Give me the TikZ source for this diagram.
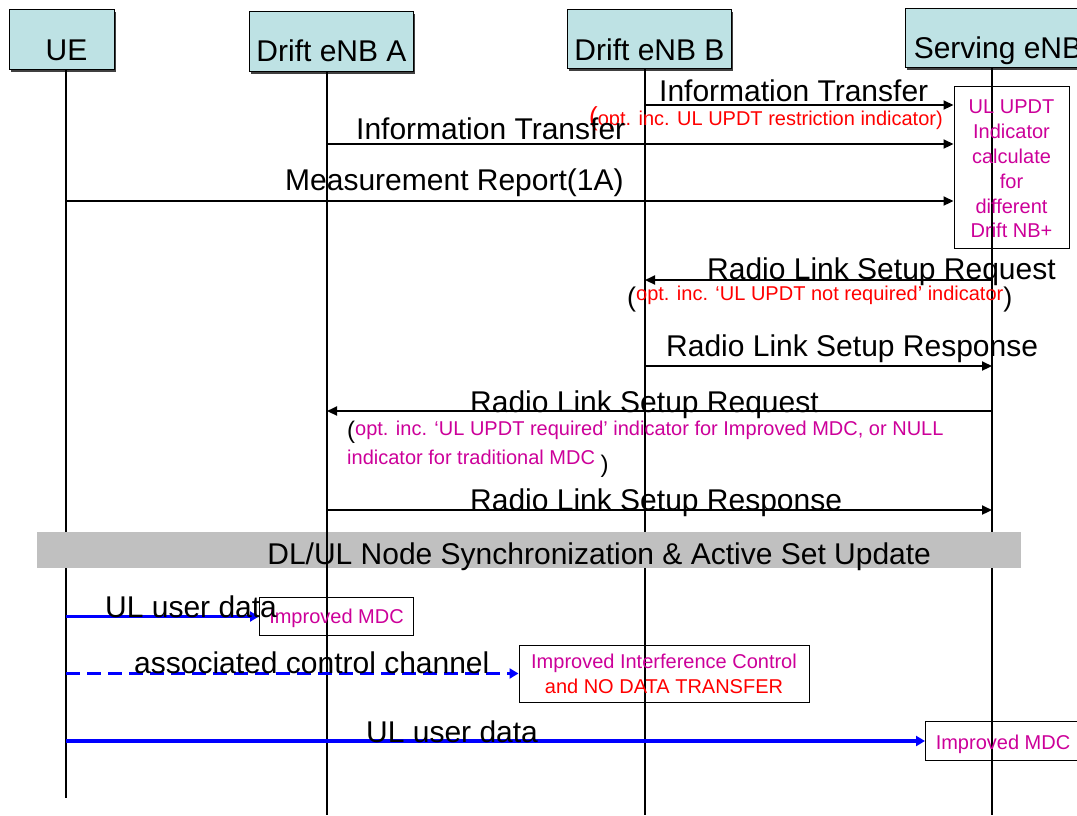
\documentclass[tikz,border=0pt]{standalone}
\usepackage{fontspec}
\setmainfont{Liberation Sans}
\usetikzlibrary{arrows.meta,shadows}
\definecolor{hdr}{RGB}{190,226,228}
\definecolor{mag}{RGB}{204,0,153}
\definecolor{bandgray}{RGB}{192,192,192}
\newcommand{\bigtxt}{\fontsize{30}{36}\selectfont}
\newcommand{\smtxt}{\fontsize{20}{24.8}\selectfont}
\newcommand{\parfont}{\fontsize{26}{30}\selectfont}
\begin{document}
\begin{tikzpicture}[x=1pt,y=-1pt,
  hdrbox/.style={draw=black, line width=1pt, fill=hdr, inner sep=0pt, anchor=north west, font=\bigtxt,
    general shadow={fill=black!75, shadow xshift=1.5pt, shadow yshift=-2pt}},
  life/.style={line width=1.3pt, draw=black},
  msg/.style={line width=2.2pt, -{Triangle[length=10pt,width=9pt]}},
  blu/.style={draw=blue, line width=3.2pt, -{Triangle[length=9pt,width=10pt]}},
  lbl/.style={font=\bigtxt, inner sep=0pt, anchor=base west},
  note/.style={draw=black, line width=1pt, inner sep=0pt}]
\useasboundingbox (0,0) rectangle (1077,815);

% header boxes
\node[hdrbox, minimum width=105pt, text height=51pt, text depth=9pt] (ue) at (9,9) {\hspace*{9pt}UE};
\node[hdrbox, minimum width=164pt, text height=50pt, text depth=10pt] (da) at (249,11) {Drift eNB A};
\node[hdrbox, minimum width=164pt, text height=51pt, text depth=8pt] (db) at (567,9) {Drift eNB B};
\node[hdrbox, minimum width=185pt, text height=50pt, text depth=9pt] (se) at (905,8) {Serving eNB};

% lifelines
\coordinate (ueB) at (66,798);
\coordinate (daB) at (327,815);
\coordinate (dbB) at (645,815);
\coordinate (seB) at (992,815);
\draw[life] (ue.south -| ueB) -- (ueB);
\draw[life] (db.south -| dbB) -- (dbB);
\draw[life] (se.south -| seB) -- (seB);

% sync band
\node[fill=bandgray, anchor=north west, inner sep=0pt, minimum width=984pt, text height=32pt, text depth=4pt, font=\bigtxt] (band) at (37,532) {\hspace*{140pt}DL/UL Node Synchronization \& Active Set Update};
\draw[life] (da.south -| daB) -- (daB);

% UL UPDT box
\node[note, minimum width=115pt, minimum height=162pt] (updt) at (1011.5,167) {};
\node[inner sep=0pt, font=\smtxt, text=mag, align=center] (updtxt) at (updt.center) [yshift=-2pt] {UL UPDT\\Indicator\\calculate\\for\\different\\Drift NB+};

% messages
\draw[msg] (dbB |- 0,105) -- (updt.west |- 0,105);
\node[lbl] (l1) at (659,101) {Information Transfer};
\node[inner sep=0pt, anchor=base west, text=red] (r1) at (589,125) {{\parfont(}\smtxt opt. inc. UL UPDT restriction indicator)};

\draw[msg] (daB |- 0,144) -- (updt.west |- 0,144);
\node[lbl] (l2) at (356,139) {Information Transfer};

\draw[msg] (ueB |- 0,201) -- (updt.west |- 0,201);
\node[lbl] (l3) at (285,190) {Measurement Report(1A)};

\draw[msg] (seB |- 0,280) -- (dbB |- 0,280);
\node[lbl] (l4) at (707,279) {Radio Link Setup Request};
\node[inner sep=0pt, anchor=base west] (r2) at (627,300) {\raisebox{-6pt}{\fontsize{27}{30}\selectfont(}\textcolor{red}{\smtxt opt. inc. ‘UL UPDT not required’ indicator}\raisebox{-6pt}{\fontsize{27}{30}\selectfont)}};

\draw[msg] (dbB |- 0,366) -- (seB |- 0,366);
\node[lbl] (l5) at (666,356) {Radio Link Setup Response};

\draw[msg] (seB |- 0,411) -- (daB |- 0,411);
\node[lbl] (l6) at (470,412) {Radio Link Setup Request};
\node[inner sep=0pt, anchor=base west, align=left, font=\fontsize{20}{29}\selectfont, text=mag] (m1) at (347,464) {\raisebox{-3pt}{\color{black}\fontsize{24}{28}\selectfont(}opt. inc. ‘UL UPDT required’ indicator for Improved MDC, or NULL\\indicator for traditional MDC \raisebox{-8pt}{\color{black}\fontsize{24}{28}\selectfont)}};

\draw[msg] (daB |- 0,510) -- (seB |- 0,510);
\node[lbl] (l7) at (470,510) {Radio Link Setup Response};

% bottom boxes
\node[note, anchor=north west, minimum width=154pt, text height=26pt, text depth=12pt, font=\smtxt, text=mag] (mdc1) at (259,597) {Improved MDC};
\node[note, minimum width=290pt, minimum height=57pt, align=center, font=\smtxt] (ictl) at (664,673.5) {\textcolor{mag}{Improved Interference Control}\\\textcolor{red}{and NO DATA TRANSFER}};
\node[note, anchor=north west, minimum width=155pt, text height=28pt, text depth=11pt, font=\smtxt, text=mag] (mdc3) at (925,721) {Improved MDC};

% user plane
\draw[blu] (ueB |- mdc1.west) -- (mdc1.west);
\node[lbl] (u1) at (105,617) {UL user data};
\draw[blu, dash pattern=on 14pt off 7pt] (ueB |- ictl.west) -- (ictl.west);
\node[lbl] (u2) at (134,673) {associated control channel};
\draw[blu] (ueB |- mdc3.west) -- (mdc3.west);
\node[lbl] (u3) at (366,742) {UL user data};
\end{tikzpicture}
\end{document}
